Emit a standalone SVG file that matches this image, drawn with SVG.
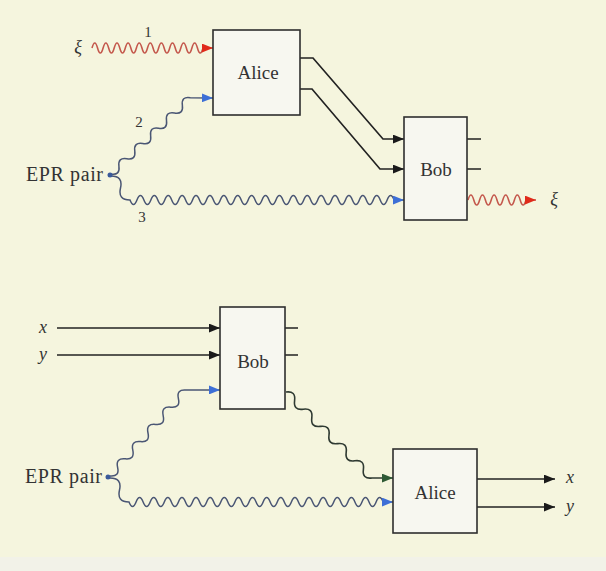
<svg xmlns="http://www.w3.org/2000/svg" width="606" height="571" viewBox="0 0 606 571">
<style>
.box{fill:#f7f7f0;stroke:#2e2e2e;stroke-width:1.6}
.lbl{font-family:"Liberation Serif",serif;font-size:19px;fill:#333;text-anchor:middle}
.epr{font-family:"Liberation Serif",serif;font-size:20px;fill:#333}
.num{font-family:"Liberation Serif",serif;font-size:15px;fill:#333;text-anchor:middle}
.it{font-family:"Liberation Serif",serif;font-style:italic;font-size:18px;fill:#333;text-anchor:middle}
.ln{fill:none;stroke:#222;stroke-width:1.7}
.wb{fill:none;stroke:#4a5674;stroke-width:1.5}
.wr{fill:none;stroke:#c4584c;stroke-width:1.6}
.wg{fill:none;stroke:#2f3a32;stroke-width:1.6}
</style>
<defs>
<marker id="ak" viewBox="0 0 10 8" refX="10" refY="4" markerWidth="11" markerHeight="9" markerUnits="userSpaceOnUse" orient="auto"><path d="M0,0 L10,4 L0,8 z" fill="#1a1a1a"/></marker>
<marker id="abl" viewBox="0 0 10 8" refX="10" refY="4" markerWidth="11" markerHeight="9" markerUnits="userSpaceOnUse" orient="auto"><path d="M0,0 L10,4 L0,8 z" fill="#3d6fd6"/></marker>
<marker id="ar" viewBox="0 0 10 8" refX="10" refY="4" markerWidth="11" markerHeight="9" markerUnits="userSpaceOnUse" orient="auto"><path d="M0,0 L10,4 L0,8 z" fill="#e02a1a"/></marker>
<marker id="ag" viewBox="0 0 10 8" refX="10" refY="4" markerWidth="11" markerHeight="9" markerUnits="userSpaceOnUse" orient="auto"><path d="M0,0 L10,4 L0,8 z" fill="#2e5a34"/></marker>
</defs>
<rect x="0" y="0" width="606" height="571" fill="#f5f5de"/>
<rect x="0" y="557" width="606" height="14" fill="#f2f2e8"/>

<g id="connectors">
<path class="wr" marker-end="url(#ar)" d="M92,48 q2.775,-10 5.55,0 t5.55,0 t5.55,0 t5.55,0 t5.55,0 t5.55,0 t5.55,0 t5.55,0 t5.55,0 t5.55,0 t5.55,0 t5.55,0 t5.55,0 t5.55,0 t5.55,0 t5.55,0 t5.55,0 t5.55,0 t5.55,0 t5.55,0 L213,48"/>
<path class="wb" marker-end="url(#abl)" d="M111,174 q9.16,1.6 7.93,-7.63 t7.93,-7.63 t7.93,-7.63 t7.93,-7.63 t7.93,-7.63 t7.93,-7.63 t7.93,-7.63 t7.93,-7.63 t7.93,-7.63 t7.93,-7.63 L213,98"/>
<path class="wb" marker-end="url(#abl)" d="M111,176 q12.3,0 9.5,12 t9.5,12 q3.475,9 6.95,0 t6.95,0 t6.95,0 t6.95,0 t6.95,0 t6.95,0 t6.95,0 t6.95,0 t6.95,0 t6.95,0 t6.95,0 t6.95,0 t6.95,0 t6.95,0 t6.95,0 t6.95,0 t6.95,0 t6.95,0 t6.95,0 t6.95,0 t6.95,0 t6.95,0 t6.95,0 t6.95,0 t6.95,0 t6.95,0 t6.95,0 t6.95,0 t6.95,0 t6.95,0 t6.95,0 t6.95,0 t6.95,0 t6.95,0 t6.95,0 t6.95,0 t6.95,0 t6.95,0 L404,200"/>
<path class="ln" marker-end="url(#ak)" d="M300,58 L313,58 L383,139 L404,139"/>
<path class="ln" marker-end="url(#ak)" d="M300,89 L312,89 L380,169 L404,169"/>
<path class="ln" d="M467,139 H481 M467,169 H481"/>
<path class="wr" marker-end="url(#ar)" d="M468,200 q2.9,-10 5.8,0 t5.8,0 t5.8,0 t5.8,0 t5.8,0 t5.8,0 t5.8,0 t5.8,0 t5.8,0 t5.8,0 L536,200"/>

<path class="ln" marker-end="url(#ak)" d="M57,328 H220"/>
<path class="ln" marker-end="url(#ak)" d="M57,355 H220"/>
<path class="ln" d="M285,328 H298 M285,355 H298"/>
<path class="wb" marker-end="url(#abl)" d="M110,476 q9.79,1 7.6,-8.6 t7.6,-8.6 t7.6,-8.6 t7.6,-8.6 t7.6,-8.6 t7.6,-8.6 t7.6,-8.6 t7.6,-8.6 t7.6,-8.6 t7.6,-8.6 L220,390"/>
<path class="wb" marker-end="url(#abl)" d="M110,478 q12.3,0 9.5,12 t9.5,12 q3.53,9 7.06,0 t7.06,0 t7.06,0 t7.06,0 t7.06,0 t7.06,0 t7.06,0 t7.06,0 t7.06,0 t7.06,0 t7.06,0 t7.06,0 t7.06,0 t7.06,0 t7.06,0 t7.06,0 t7.06,0 t7.06,0 t7.06,0 t7.06,0 t7.06,0 t7.06,0 t7.06,0 t7.06,0 t7.06,0 t7.06,0 t7.06,0 t7.06,0 t7.06,0 t7.06,0 t7.06,0 t7.06,0 t7.06,0 t7.06,0 t7.06,0 t7.06,0 L393,502"/>
<path class="wg" marker-end="url(#ag)" d="M286,392 q9.96,-1.36 8.6,8.6 t8.6,8.6 t8.6,8.6 t8.6,8.6 t8.6,8.6 t8.6,8.6 t8.6,8.6 t8.6,8.6 t8.6,8.6 t8.6,8.6 L393,478"/>
<path class="ln" marker-end="url(#ak)" d="M477,479 H555"/>
<path class="ln" marker-end="url(#ak)" d="M477,507 H555"/>
</g>

<g id="alice-top"><rect class="box" x="213" y="30" width="87" height="85"/><text class="lbl" x="258" y="79">Alice</text></g>
<g id="bob-top"><rect class="box" x="404" y="117" width="63" height="103"/><text class="lbl" x="436" y="176">Bob</text></g>
<g id="epr-top"><circle cx="110" cy="175" r="2.5" fill="#3a5a9a"/><text class="epr" x="26" y="181" textLength="77">EPR pair</text></g>
<g id="labels-top">
<text class="it" x="78" y="53">ξ</text>
<text class="num" x="148" y="37">1</text>
<text class="num" x="139" y="127">2</text>
<text class="num" x="142" y="222">3</text>
<text class="it" x="554" y="205">ξ</text>
</g>

<g id="bob-bottom"><rect class="box" x="220" y="307" width="65" height="102"/><text class="lbl" x="253" y="368">Bob</text></g>
<g id="alice-bottom"><rect class="box" x="393" y="449" width="84" height="84"/><text class="lbl" x="435" y="499">Alice</text></g>
<g id="epr-bottom"><circle cx="108" cy="477" r="2.5" fill="#3a5a9a"/><text class="epr" x="25" y="483" textLength="77">EPR pair</text></g>
<g id="labels-bottom">
<text class="it" x="43" y="333">x</text>
<text class="it" x="43" y="360">y</text>
<text class="it" x="570" y="483">x</text>
<text class="it" x="570" y="512">y</text>
</g>
</svg>
